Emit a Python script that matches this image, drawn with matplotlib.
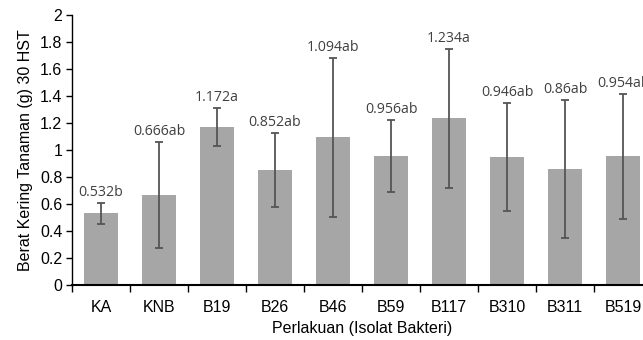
import numpy as np
import matplotlib
matplotlib.use("Agg")
import matplotlib.pyplot as plt
from matplotlib.ticker import FuncFormatter

# data
perlakuan = ["KA", "KNB", "B19", "B26", "B46", "B59", "B117", "B310", "B311", "B519"]
berat = [0.532, 0.666, 1.172, 0.852, 1.094, 0.956, 1.234, 0.946, 0.86, 0.954]
galat = [0.077, 0.395, 0.14, 0.275, 0.59, 0.268, 0.513, 0.40, 0.51, 0.464]
notasi = ["b", "ab", "a", "ab", "ab", "ab", "a", "ab", "ab", "ab"]

plt.rcParams['font.family'] = ['Liberation Sans', 'DejaVu Sans']

fig = plt.figure(figsize=(6.43, 3.4), dpi=100)
ax = fig.add_axes([0.112, 0.162, 0.902, 0.794])

x = np.arange(len(perlakuan))
ax.bar(x, berat, width=0.57, color='#a6a6a6', zorder=2)
ax.errorbar(x, berat, yerr=galat, fmt='none', ecolor='#555555',
            elinewidth=1.3, capsize=3, capthick=1.3, zorder=3)

for xi, v, e, n in zip(x, berat, galat, notasi):
    ax.annotate('%g%s' % (v, n), (xi, v + e), xytext=(0, 2),
                textcoords='offset points', ha='center', va='bottom',
                fontsize=10.2, family=['Open Sans', 'DejaVu Sans'],
                color='#404040')

ax.set_xlim(-0.5, len(perlakuan) - 0.5)
ax.set_ylim(0, 2)
ax.set_yticks(np.arange(0, 2.01, 0.2))
ax.yaxis.set_major_formatter(FuncFormatter(lambda v, p: '%g' % round(v, 1)))

ax.set_xticks(x)
ax.set_xticklabels(perlakuan)
ax.set_xticks(np.arange(-0.5, len(perlakuan), 1), minor=True)
ax.tick_params(axis='x', which='major', length=0, pad=11, labelsize=11.5)
ax.tick_params(axis='x', which='minor', length=5, width=1, color='black')
ax.tick_params(axis='y', length=4, width=1, labelsize=11.5, pad=3)

for s in ['top', 'right']:
    ax.spines[s].set_visible(False)
ax.spines['left'].set_linewidth(1)
ax.spines['bottom'].set_linewidth(1.5)

ax.set_xlabel('Perlakuan (Isolat Bakteri)', fontsize=11.5, labelpad=4)
ax.set_ylabel('Berat Kering Tanaman (g) 30 HST', fontsize=11.5, labelpad=5)

fig.savefig('out.png', dpi=100)
